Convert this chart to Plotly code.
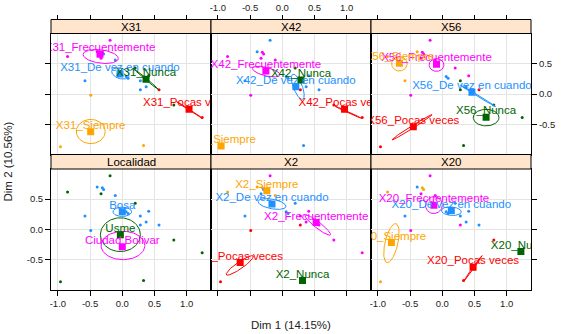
import numpy as np
import plotly.graph_objects as go

W, H = 561, 334
FONT = "Liberation Sans, Arial, sans-serif"

# ---------------- data ----------------
PANELS = ["X31", "X42", "X56", "Localidad", "X2", "X20"]

X_TICKS = [-1.0, -0.5, 0.0, 0.5, 1.0]
X_TICK_TEXT = ["-1.0", "-0.5", "0.0", "0.5", "1.0"]
Y_TICKS = [-0.5, 0.0, 0.5]
Y_TICK_TEXT = ["-0.5", "0.0", "0.5"]
X_RANGE = [-1.107, 1.377]
Y_RANGE = [-1.0, 1.0]

# individuals (same coordinates in every panel)
IND_X = [-0.19, -0.85, -0.39, -0.31, -0.29, -0.33, -0.11, 0.20, 0.06, 0.09, -0.58,
         0.28, 0.41, 0.37, 0.28, 0.57, -0.49, 0.80, 1.24, -0.96, 0.33]
IND_Y = [0.89, 0.62, 0.70, 0.69, 0.66, 0.59, 0.56, 0.43, 0.29, 0.26, 0.22,
         0.22, 0.30, 0.12, 0.07, 0.07, -0.02, -0.18, -0.39, -0.87, -0.85]

# category of each individual for each variable
IND_CAT = {
    "X31": "F F F F D F D N D D D D N D D P S N P S S".split(),
    "X42": "D F D F F F F N D D D N D D P D F P P S D".split(),
    "X56": "F S S F F F F F D D S N F D N P F N N P N".split(),
    "Localidad": "U U B B B U B U B B B B B B B B B U U U U".split(),
    "X2": "F S S S D D S D D D D F F F P F P F F P N".split(),
    "X20": "F S D S S F F D D D D D D D F D F P N S P".split(),
}

LEVEL_NAMES = {"D": "De vez en cuando", "F": "Frecuentemente", "N": "Nunca",
               "P": "Pocas veces", "S": "Siempre",
               "B": "Bosa", "C": "Ciudad Bolivar", "U": "Usme"}
LEVEL_COLORS = {"D": "#1E90FF", "F": "#FF00FF", "N": "#006400", "P": "#FF0000",
                "S": "#FFA500", "B": "#1E90FF", "C": "#FF00FF", "U": "#006400"}

# category coordinates (squares)
CAT_CODES = {
    "X31": ["D", "F", "N", "P", "S"],
    "X42": ["D", "F", "N", "P", "S"],
    "X56": ["D", "F", "N", "P", "S"],
    "Localidad": ["B", "C", "U"],
    "X2": ["D", "F", "N", "P", "S"],
    "X20": ["D", "F", "N", "P", "S"],
}
CAT_X = {
    "X31": [-0.036, -0.346, 0.368, 1.036, -0.491],
    "X42": [0.21, -0.255, 0.29, 0.966, -0.95],
    "X56": [0.46, -0.09, 0.68, -0.45, -0.666],
    "Localidad": [0.0, 0.0, -0.03],
    "X2": [-0.16, 0.526, 0.314, -0.654, -0.24],
    "X20": [0.14, -0.13, 1.22, 0.478, -0.79],
}
CAT_Y = {
    "X31": [0.331, 0.656, 0.243, -0.253, -0.623],
    "X42": [0.12, 0.38, 0.23, -0.253, -0.86],
    "X56": [0.03, 0.49, -0.385, -0.54, 0.507],
    "Localidad": [0.29, -0.29, -0.09],
    "X2": [0.42, 0.11, -0.85, -0.55, 0.64],
    "X20": [0.31, 0.40, -0.37, -0.63, -0.22],
}

# confidence ellipses: (level, centre x, centre y, semi-axis a, semi-axis b, angle deg)
ELLIPSES = {
    "X31": [("F", -0.335, 0.62, 0.275, 0.11, -8), ("D", -0.03, 0.34, 0.14, 0.085, -20),
            ("N", 0.365, 0.25, 0.26, 0.012, -42), ("P", 1.043, -0.264, 0.242, 0.008, -34.6),
            ("S", -0.49, -0.62, 0.225, 0.20, 0)],
    "X42": [("F", -0.25, 0.37, 0.22, 0.07, -15), ("D", 0.24, 0.12, 0.22, 0.07, -70),
            ("P", 1.02, -0.30, 0.22, 0.008, -26)],
    "X56": [("S", -0.666, 0.50, 0.12, 0.12, 0), ("F", -0.09, 0.48, 0.115, 0.105, 0),
            ("D", 0.553, -0.03, 0.325, 0.01, -33), ("N", 0.68, -0.39, 0.20, 0.137, 0),
            ("P", -0.47, -0.55, 0.373, 0.022, 33.7)],
    "Localidad": [("B", 0.0, 0.29, 0.145, 0.077, 0), ("U", -0.03, -0.09, 0.31, 0.28, 0),
                  ("C", 0.01, -0.27, 0.34, 0.235, 0)],
    "X2": [("D", -0.16, 0.42, 0.22, 0.08, -12), ("F", 0.55, 0.07, 0.255, 0.05, -40),
           ("P", -0.66, -0.60, 0.26, 0.055, 36.7)],
    "X20": [("F", -0.13, 0.40, 0.14, 0.13, 80), ("D", 0.14, 0.30, 0.155, 0.07, -5),
            ("S", -0.79, -0.23, 0.33, 0.10, 78), ("P", 0.475, -0.65, 0.256, 0.01, 56)],
}

# ---------------- layout geometry ----------------
COL_L = [51, 211, 371]
COL_W = 160
ROW_T = [33.5, 169.0]
ROW_H = [121.0, 120.5]
STRIP_T = [19.5, 154.5]


def xname(n):
    return "x" if n == 1 else f"x{n}"


def yname(n):
    return "y" if n == 1 else f"y{n}"


def ellipse_pts(cx, cy, a, b, ang):
    t = np.linspace(0, 2 * np.pi, 90)
    th = np.deg2rad(ang)
    ex = cx + a * np.cos(t) * np.cos(th) - b * np.sin(t) * np.sin(th)
    ey = cy + a * np.cos(t) * np.sin(th) + b * np.sin(t) * np.cos(th)
    return ex, ey


fig = go.Figure()
layout = dict(width=W, height=H, margin=dict(l=0, r=0, t=0, b=0),
              paper_bgcolor="white", plot_bgcolor="white", showlegend=False,
              font=dict(family=FONT, color="#000000"))
shapes, annotations = [], []

for i, name in enumerate(PANELS):
    n = i + 1
    r, c = divmod(i, 3)
    xa, ya = xname(n), yname(n)
    x0, x1 = COL_L[c] / W, (COL_L[c] + COL_W) / W
    y0, y1 = 1 - (ROW_T[r] + ROW_H[r]) / H, 1 - ROW_T[r] / H

    # individuals
    cats = IND_CAT[name]
    fig.add_trace(go.Scatter(
        x=IND_X, y=IND_Y, mode="markers", xaxis=xa, yaxis=ya,
        marker=dict(size=3, color=[LEVEL_COLORS[k] for k in cats]),
        hoverinfo="skip"))

    # ellipses
    for (lv, cx, cy, a, b, ang) in ELLIPSES[name]:
        ex, ey = ellipse_pts(cx, cy, a, b, ang)
        fig.add_trace(go.Scatter(x=ex, y=ey, mode="lines", xaxis=xa, yaxis=ya,
                                 line=dict(color=LEVEL_COLORS[lv], width=1),
                                 hoverinfo="skip"))

    # category squares + labels
    codes = CAT_CODES[name]
    for k, lv in enumerate(codes):
        fig.add_trace(go.Scatter(
            x=[CAT_X[name][k]], y=[CAT_Y[name][k]], mode="markers", xaxis=xa, yaxis=ya,
            marker=dict(symbol="square", size=7, color=LEVEL_COLORS[lv]),
            hoverinfo="skip"))
    for k, lv in enumerate(codes):
        lab = LEVEL_NAMES[lv] if name == "Localidad" else f"{name}_{LEVEL_NAMES[lv]}"
        fig.add_trace(go.Scatter(
            x=[CAT_X[name][k]], y=[CAT_Y[name][k]], mode="text", xaxis=xa, yaxis=ya,
            text=[lab], textposition="top center",
            textfont=dict(family=FONT, size=11.5, color=LEVEL_COLORS[lv]),
            hoverinfo="skip"))

    layout["xaxis" if n == 1 else f"xaxis{n}"] = dict(
        domain=[x0, x1], range=X_RANGE, anchor=ya, tickmode="array",
        tickvals=X_TICKS, ticktext=X_TICK_TEXT,
        showgrid=True, gridcolor="#E4E4E4", gridwidth=1, zeroline=False,
        showline=True, linecolor="#000000", linewidth=1, mirror=True,
        ticks="outside" if r == 1 else "", ticklen=5, tickcolor="#000000",
        showticklabels=(r == 1 and c != 1),
        tickfont=dict(family=FONT, size=9.5, color="#222222"))
    layout["yaxis" if n == 1 else f"yaxis{n}"] = dict(
        domain=[y0, y1], range=Y_RANGE, anchor=xa, tickmode="array",
        tickvals=Y_TICKS, ticktext=Y_TICK_TEXT,
        side="right" if c == 2 else "left",
        showgrid=True, gridcolor="#E4E4E4", gridwidth=1, zeroline=False,
        showline=True, linecolor="#000000", linewidth=1, mirror=True,
        ticks="" if c == 1 else "outside", ticklen=5, tickcolor="#000000",
        showticklabels=((c == 0 and r == 1) or (c == 2 and r == 0)),
        tickfont=dict(family=FONT, size=9.5, color="#222222"))

    # strip
    sy0 = 1 - ROW_T[r] / H
    sy1 = 1 - STRIP_T[r] / H
    shapes.append(dict(type="rect", xref="paper", yref="paper", x0=x0, x1=x1,
                       y0=sy0, y1=sy1, fillcolor="#FFE5CC",
                       line=dict(color="#000000", width=1), layer="above"))
    annotations.append(dict(xref="paper", yref="paper", x=(x0 + x1) / 2,
                            y=(sy0 + sy1) / 2, text=name, showarrow=False,
                            font=dict(family=FONT, size=11.5, color="#000000"),
                            xanchor="center", yanchor="middle"))

# top tick axes, above the strips of the first row
for c in range(3):
    n = 7 + c
    base = c + 1
    x0, x1 = COL_L[c] / W, (COL_L[c] + COL_W) / W
    fig.add_trace(go.Scatter(x=[None], y=[None], xaxis=xname(n), yaxis=yname(base),
                             mode="markers", hoverinfo="skip"))
    layout[f"xaxis{n}"] = dict(
        domain=[x0, x1], range=X_RANGE, anchor="free", overlaying=xname(base),
        position=1 - STRIP_T[0] / H, side="top", tickmode="array",
        tickvals=X_TICKS, ticktext=X_TICK_TEXT, showgrid=False, zeroline=False,
        showline=False, ticks="outside", ticklen=5, tickcolor="#000000",
        showticklabels=(c == 1),
        tickfont=dict(family=FONT, size=9.5, color="#222222"))

annotations.append(dict(xref="paper", yref="paper", x=291 / W, y=1 - 325 / H,
                        text="Dim 1 (14.15%)", showarrow=False,
                        font=dict(family=FONT, size=11.5, color="#222222"),
                        xanchor="center", yanchor="middle"))
annotations.append(dict(xref="paper", yref="paper", x=8 / W, y=1 - 161.5 / H,
                        text="Dim 2 (10.56%)", showarrow=False, textangle=-90,
                        font=dict(family=FONT, size=11.5, color="#222222"),
                        xanchor="center", yanchor="middle"))

layout["shapes"] = shapes
layout["annotations"] = annotations
fig.update_layout(**layout)
fig.write_html("out.html", config={"displayModeBar": False},
               post_script="document.body.style.margin='0px';document.body.style.overflow='hidden';")
